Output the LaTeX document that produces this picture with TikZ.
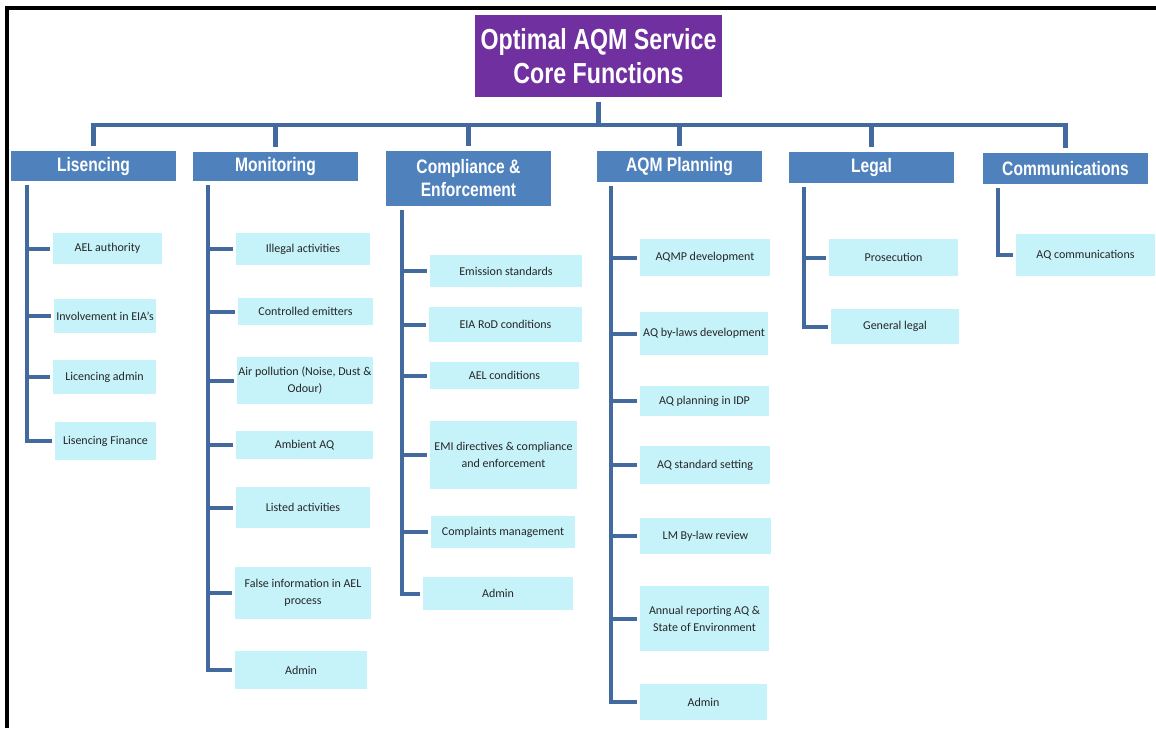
\documentclass[tikz,border=0pt]{standalone}
\usepackage{fontspec}
\setmainfont{Carlito}
\newfontfamily\headfont[FakeStretch=0.8]{Liberation Sans}
\usetikzlibrary{calc}

\definecolor{aqmpurple}{RGB}{112,48,160}
\definecolor{aqmblue}{RGB}{79,129,189}
\definecolor{aqmline}{RGB}{66,106,158}
\definecolor{aqmcyan}{RGB}{198,242,250}

\begin{document}
\begin{tikzpicture}[x=1pt,y=-1pt,
  every node/.style={inner sep=0pt,align=center},
  titlebox/.style={fill=aqmpurple,text=white,font=\headfont\bfseries\fontsize{29}{34}\selectfont,minimum width=247,minimum height=82},
  headbox/.style={fill=aqmblue,text=white,font=\headfont\bfseries\fontsize{19.5}{23}\selectfont,minimum width=165},
  itembox/.style={fill=aqmcyan,text=black!85,font=\fontsize{12}{17}\selectfont},
  trunk/.style={draw=aqmline,line width=4.5pt,shorten <=5pt,shorten >=5pt},
  twig/.style={draw=aqmline,line width=4pt,shorten >=3pt}
]
  \useasboundingbox (0,0) rectangle (1156,728);
  \draw[line width=3.2pt] (7,728) -- (7,8) -- (1156,8);

  % top of the chart
  \node[titlebox] (title) at (598.5,56) {Optimal AQM Service\\Core Functions};

  % core functions
  \node[headbox,minimum height=30] (hLic) at (93.5,166) {Lisencing};
  \node[headbox,minimum height=29] (hMon) at (275.5,166.5) {Monitoring};
  \node[headbox,minimum height=55] (hCom) at (468.5,178.5) {Compliance \&\\Enforcement};
  \node[headbox,minimum height=31] (hPln) at (679.5,166.5) {AQM Planning};
  \node[headbox,minimum height=31] (hLeg) at (871.5,167.5) {Legal};
  \node[headbox,minimum height=31] (hCmm) at (1065.5,168.5) {Communications};

  \foreach \h in {hLic,hMon,hCom,hPln,hLeg,hCmm}
    \draw[trunk] (title.south) -- ++(0,28) -| (\h.north);

  % lisencing
  \node[itembox,minimum width=109,minimum height=31] (lic1) at (107.5,248.5) {AEL authority};
  \node[itembox,minimum width=102,minimum height=34] (lic2) at (105,316) {Involvement in EIA's};
  \node[itembox,minimum width=103,minimum height=34] (lic3) at (104.5,377) {Licencing admin};
  \node[itembox,minimum width=101,minimum height=38] (lic4) at (105.5,441) {Lisencing Finance};

  % monitoring
  \node[itembox,minimum width=134,minimum height=32] (mon1) at (303,249) {Illegal activities};
  \node[itembox,minimum width=135,minimum height=27] (mon2) at (305.5,311.5) {Controlled emitters};
  \node[itembox,minimum width=136,minimum height=47] (mon3) at (305,380.5) {Air pollution (Noise, Dust \&\\Odour)};
  \node[itembox,minimum width=137,minimum height=28] (mon4) at (304.5,445) {Ambient AQ};
  \node[itembox,minimum width=134,minimum height=41] (mon5) at (303,507.5) {Listed activities};
  \node[itembox,minimum width=136,minimum height=52] (mon6) at (303,593) {False information in AEL\\process};
  \node[itembox,minimum width=132,minimum height=38] (mon7) at (301,670) {Admin};

  % compliance and enforcement
  \node[itembox,minimum width=152,minimum height=32] (com1) at (506,271) {Emission standards};
  \node[itembox,minimum width=153,minimum height=35] (com2) at (505.5,324.5) {EIA RoD conditions};
  \node[itembox,minimum width=149,minimum height=27] (com3) at (504.5,375.5) {AEL conditions};
  \node[itembox,minimum width=147,minimum height=68] (com4) at (503.5,455) {EMI directives \& compliance\\and enforcement};
  \node[itembox,minimum width=144,minimum height=32] (com5) at (503,532) {Complaints management};
  \node[itembox,minimum width=150,minimum height=33] (com6) at (498,593.5) {Admin};

  % aqm planning
  \node[itembox,minimum width=130,minimum height=37] (pln1) at (705,257.5) {AQMP development};
  \node[itembox,minimum width=128,minimum height=43] (pln2) at (704,333.5) {AQ by-laws development};
  \node[itembox,minimum width=129,minimum height=30] (pln3) at (704.5,401) {AQ planning in IDP};
  \node[itembox,minimum width=130,minimum height=38] (pln4) at (705,465) {AQ standard setting};
  \node[itembox,minimum width=131,minimum height=36] (pln5) at (705.5,536) {LM By-law review};
  \node[itembox,minimum width=129,minimum height=65] (pln6) at (704.5,618.5) {Annual reporting AQ \&\\State of Environment};
  \node[itembox,minimum width=127,minimum height=36] (pln7) at (703.5,702) {Admin};

  % legal
  \node[itembox,minimum width=129,minimum height=37] (leg1) at (893.5,257.5) {Prosecution};
  \node[itembox,minimum width=128,minimum height=35] (leg2) at (895,326.5) {General legal};

  % communications
  \node[itembox,minimum width=139,minimum height=42] (cmm1) at (1085.5,255) {AQ communications};

  % branches
  \foreach \c in {lic1,lic2,lic3,lic4}
    \draw[twig] ($(hLic.south west)+(16,4)$) |- (\c.west);
  \foreach \c in {mon1,mon2,mon3,mon4,mon5,mon6,mon7}
    \draw[twig] ($(hMon.south west)+(15,4)$) |- (\c.west);
  \foreach \c in {com1,com2,com3,com4,com5,com6}
    \draw[twig] ($(hCom.south west)+(16,4)$) |- (\c.west);
  \foreach \c in {pln1,pln2,pln3,pln4,pln5,pln6,pln7}
    \draw[twig] ($(hPln.south west)+(14,4)$) |- (\c.west);
  \foreach \c in {leg1,leg2}
    \draw[twig] ($(hLeg.south west)+(15,4)$) |- (\c.west);
  \draw[twig] ($(hCmm.south west)+(15,4)$) |- (cmm1.west);
\end{tikzpicture}
\end{document}
